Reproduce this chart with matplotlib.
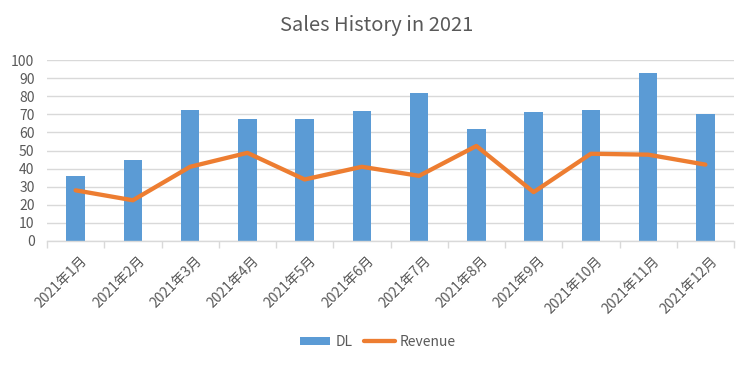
import matplotlib
matplotlib.use("Agg")
import matplotlib.pyplot as plt
import numpy as np

plt.rcParams['font.family'] = ['Noto Sans CJK JP', 'DejaVu Sans']

months = ["2021年1月", "2021年2月", "2021年3月", "2021年4月", "2021年5月", "2021年6月",
          "2021年7月", "2021年8月", "2021年9月", "2021年10月", "2021年11月", "2021年12月"]
dl = [36, 45, 72.5, 67.5, 67.5, 72, 82, 62, 71, 72.5, 93, 70]
revenue = [28, 22.5, 41, 48.7, 34, 41, 36, 52.5, 27, 48.2, 47.7, 42.2]
yticks = [0, 10, 20, 30, 40, 50, 60, 70, 80, 90, 100]

bar_color = "#5B9BD5"
line_color = "#ED7D31"
text_color = "#595959"
grid_color = "#D9D9D9"

fig = plt.figure(figsize=(7.53, 3.67), dpi=100)
ax = fig.add_axes([47/753, 1 - 241/367, (734-47)/753, (241-60)/367])

x = np.arange(len(months))
b = ax.bar(x, dl, width=0.32, color=bar_color, label="DL", zorder=2)
l, = ax.plot(x, revenue, color=line_color, linewidth=3.1, label="Revenue", zorder=3,
             solid_joinstyle="round", solid_capstyle="round")

ax.set_xlim(-0.5, len(months) - 0.5)
ax.set_ylim(0, 100)
ax.set_yticks(yticks)
ax.yaxis.grid(True, color=grid_color, linewidth=1, zorder=0)
ax.set_axisbelow(True)

for s in ["top", "right", "left"]:
    ax.spines[s].set_visible(False)
ax.spines["bottom"].set_color(grid_color)
ax.spines["bottom"].set_linewidth(1)

ax.set_xticks(x + 0.08)
ax.set_xticklabels(months, rotation=45, ha="right", rotation_mode="anchor",
                   fontsize=10, color=text_color)
ax.tick_params(axis="x", length=0, pad=9)
ax.set_xticks(np.arange(-0.5, len(months)), minor=True)
ax.tick_params(axis="x", which="minor", length=5, color=grid_color, width=1)
ax.tick_params(axis="y", length=0, labelsize=10, labelcolor=text_color, pad=9)

fig.suptitle("Sales History in 2021", x=0.5, y=0.96, fontsize=14.5, color=text_color)

leg = fig.legend([b, l], ["DL", "Revenue"], loc="center", bbox_to_anchor=(0.502, 1 - 342/367),
                 ncol=2, frameon=False, fontsize=10, handlelength=2.2, handleheight=0.55,
                 columnspacing=0.8, handletextpad=0.4)
for t in leg.get_texts():
    t.set_color(text_color)

fig.savefig("out.png", dpi=100)
